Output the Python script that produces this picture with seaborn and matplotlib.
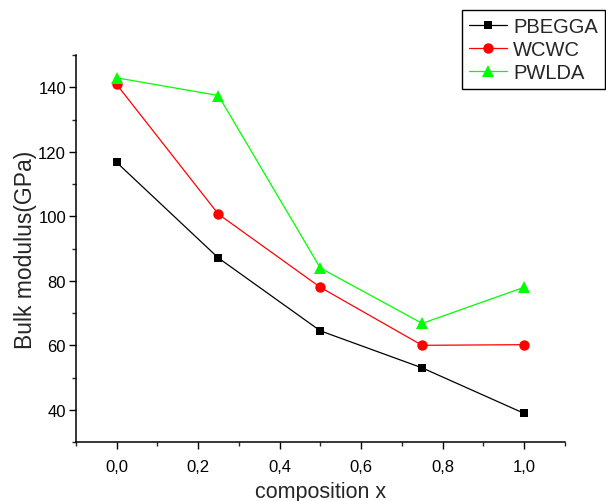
import matplotlib.pyplot as plt
import matplotlib.ticker as mticker
import pandas as pd
import seaborn as sns

composition = [0.0, 0.25, 0.5, 0.75, 1.0]
pbegga = [116.8, 87.1, 64.5, 53.0, 38.9]
wcwc = [141.0, 100.7, 78.0, 60.0, 60.2]
pwlda = [143.0, 137.5, 84.0, 66.8, 78.0]

series = {"PBEGGA": pbegga, "WCWC": wcwc, "PWLDA": pwlda}
colors = {"PBEGGA": "#000000", "WCWC": "#ff0000", "PWLDA": "#00ff00"}
markers = {"PBEGGA": "s", "WCWC": "o", "PWLDA": "^"}
msizes = {"PBEGGA": 6, "WCWC": 7.5, "PWLDA": 8}

sns.set_style("ticks")
plt.rcParams["font.family"] = ["Liberation Sans", "DejaVu Sans"]

rows = []
for name, vals in series.items():
    for x, y in zip(composition, vals):
        rows.append({"x": x, "y": y, "method": name})
df = pd.DataFrame(rows)

fig = plt.figure(figsize=(6.06, 5.02), dpi=100)
ax = fig.add_axes([0.125, 0.1175, 0.807, 0.7705])

for name in series:
    sns.lineplot(
        data=df[df.method == name],
        x="x",
        y="y",
        color=colors[name],
        marker=markers[name],
        markersize=msizes[name],
        markeredgewidth=0,
        linewidth=0.9,
        label=name,
        ax=ax,
        legend=False,
    )

ax.set_xlim(-0.1, 1.1)
ax.set_ylim(30, 150)
ax.xaxis.set_major_locator(mticker.MultipleLocator(0.2))
ax.xaxis.set_minor_locator(mticker.MultipleLocator(0.1))
ax.yaxis.set_major_locator(mticker.MultipleLocator(20))
ax.yaxis.set_minor_locator(mticker.MultipleLocator(10))
ax.xaxis.set_major_formatter(
    mticker.FuncFormatter(lambda v, p: f"{v:.1f}".replace(".", ",").replace("-0,0", "0,0"))
)
ax.set_yticks([40, 60, 80, 100, 120, 140])
ax.tick_params(which="major", direction="out", length=5, width=1, labelsize=12, colors="black")
ax.tick_params(axis="x", which="major", pad=7)
ax.tick_params(axis="y", which="major", pad=2)
ax.tick_params(which="minor", direction="out", length=3, width=1)
for s in ["top", "right"]:
    ax.spines[s].set_visible(False)
for s in ["left", "bottom"]:
    ax.spines[s].set_linewidth(1.1)
    ax.spines[s].set_color("black")

ax.set_xlabel("composition x", fontsize=15.5, labelpad=5)
ax.set_ylabel("Bulk modulus(GPa)", fontsize=16.5, labelpad=1)

leg = ax.legend(
    loc="upper left",
    bbox_to_anchor=(0.762, 0.978),
    bbox_transform=fig.transFigure,
    fontsize=14.5,
    frameon=True,
    fancybox=False,
    handlelength=1.9,
    handletextpad=0.3,
    labelspacing=0.2,
    borderpad=0.35,
    borderaxespad=0,
)
leg.get_frame().set_edgecolor("black")
leg.get_frame().set_linewidth(1)
leg.get_frame().set_alpha(1)

plt.savefig("out.png", dpi=100)
plt.close("all")
